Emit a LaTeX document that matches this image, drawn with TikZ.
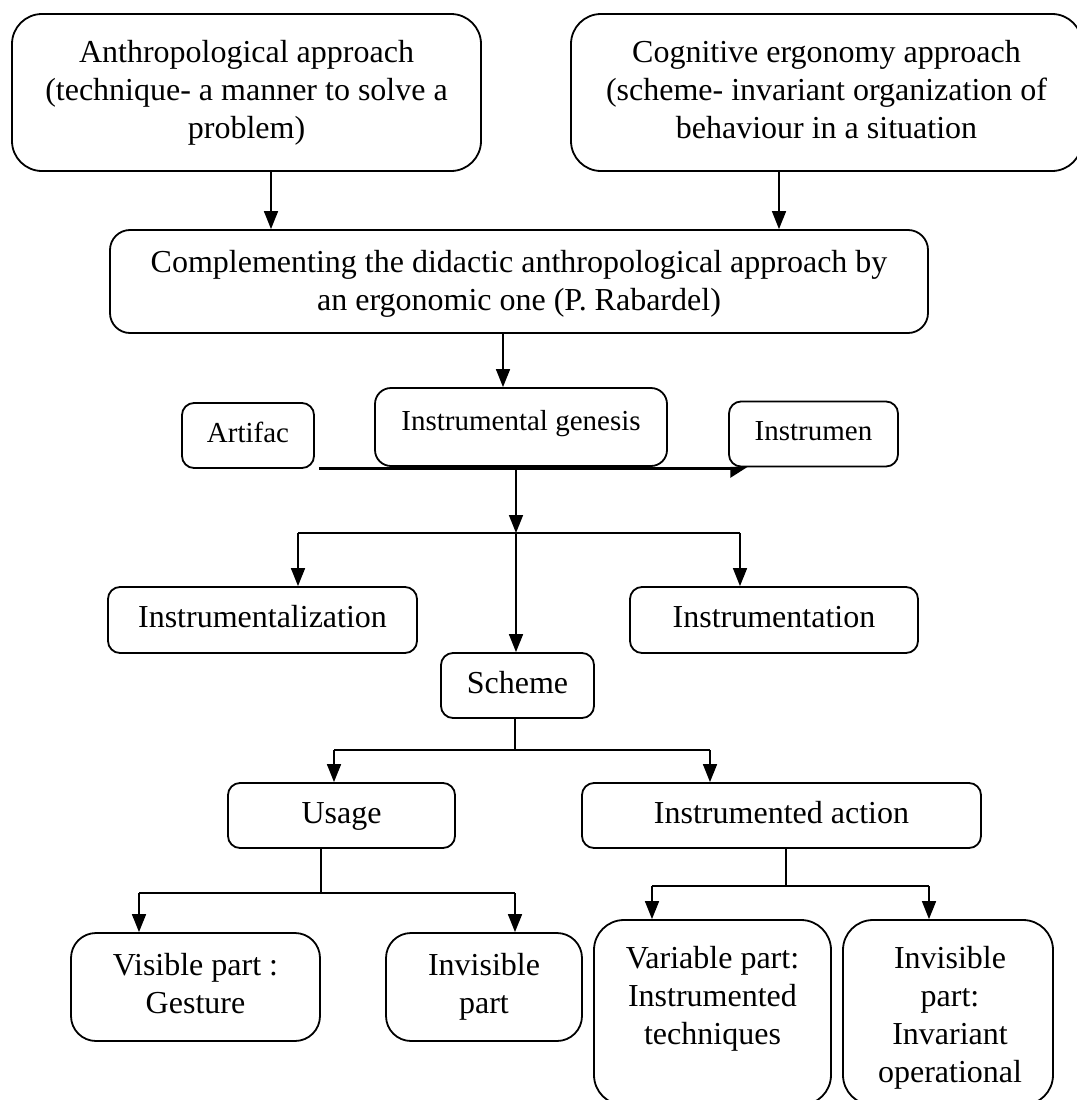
\documentclass[tikz,border=0pt]{standalone}
\usepackage{fontspec}
\setmainfont{Liberation Serif}
\usetikzlibrary{arrows.meta}
\begin{document}
\begin{tikzpicture}[x=1pt,y=-1pt,
  box/.style={draw, line width=1.8pt, rounded corners=#1, inner sep=0pt, align=center,
    font=\fontsize{32}{38}\selectfont},
  box/.default=14pt,
  one/.style={execute at begin node=\strut},
  txt/.style={inner sep=0pt, align=center, font=\fontsize{32}{38}\selectfont},
  small/.style={font=\fontsize{29}{34}\selectfont},
  arr/.style={line width=1.6pt, -{Triangle[length=18pt,width=14pt]}},
  ln/.style={line width=1.6pt}]
\useasboundingbox (0,0) rectangle (1076,1100);

% top boxes
\node[box=30pt, minimum width=469pt, minimum height=157pt] (anth) at (246.5,92.5)
  {\strut Anthropological approach\\(technique- a manner to solve a\\problem)\strut};
\node[box=30pt, minimum width=511pt, minimum height=157pt] (cog) at (826.5,92.5)
  {\strut Cognitive ergonomy approach\\(scheme- invariant organization of\\behaviour in a situation\strut};
\node[box=20pt, minimum width=818pt, minimum height=103pt] (comp) at (519,281.5)
  {\strut Complementing the didactic anthropological approach by\\an ergonomic one (P. Rabardel)};

\draw[arr] (271,0 |- anth.south) -- (271,0 |- comp.north);
\draw[arr] (779,0 |- cog.south) -- (779,0 |- comp.north);

% instrumental genesis row
\node[box=16pt, minimum width=292pt, minimum height=78pt] (ig) at (521,427) {};
\node[txt, small, anchor=base] (igt) at (521,430) {Instrumental genesis};
\node[box=12pt, small, one, minimum width=132pt, minimum height=65pt] (art) at (248,435.5) {Artifac};
\node[box=12pt, small, one, minimum width=169pt, minimum height=65pt] (ins) at (813.5,434) {Instrumen};

\draw[arr] (503,0 |- comp.south) -- (503,0 |- ig.north);
\coordinate (ts) at ([xshift=4pt,yshift=0.5pt]art.south east);
\draw[line width=3.2pt, -{Triangle[harpoon,swap,length=15pt,width=18pt]}]
  (ts) -- (748,0 |- ts);

% branching below instrumental genesis
\coordinate (j1) at (516,533);
\node[box=12pt, one, minimum width=309pt, minimum height=66pt] (iz) at (262.5,620) {Instrumentalization};
\node[box=12pt, one, minimum width=288pt, minimum height=66pt] (it) at (774,620) {Instrumentation};
\node[box=12pt, one, minimum width=153pt, minimum height=65pt] (sch) at (517.5,685.5) {Scheme};

\draw[arr] (j1 |- ig.south) -- (j1);
\draw[ln] (298,0 |- j1) -- (740,0 |- j1);
\draw[arr] (298,0 |- j1) -- (298,0 |- iz.north);
\draw[arr] (740,0 |- j1) -- (740,0 |- it.north);
\draw[arr] (j1) -- (j1 |- sch.north);

% scheme branching
\coordinate (j2) at (515,750);
\node[box=12pt, one, minimum width=227pt, minimum height=65pt] (use) at (341.5,815.5) {Usage};
\node[box=12pt, one, minimum width=399pt, minimum height=65pt] (ia) at (781.5,815.5) {Instrumented action};

\draw[ln] (j2 |- sch.south) -- (j2);
\draw[ln] (334,0 |- j2) -- (710,0 |- j2);
\draw[arr] (334,0 |- j2) -- (334,0 |- use.north);
\draw[arr] (710,0 |- j2) -- (710,0 |- ia.north);

% usage branching
\coordinate (j3) at (321,893);
\node[box=25pt, minimum width=249pt, minimum height=108pt] (vis) at (195.5,987) {\strut Visible part :\\Gesture\strut};
\node[box=25pt, minimum width=196pt, minimum height=108pt] (inv) at (484,987) {\strut Invisible\\part\strut};

\draw[ln] (j3 |- use.south) -- (j3);
\draw[ln] (139,0 |- j3) -- (515,0 |- j3);
\draw[arr] (139,0 |- j3) -- (139,0 |- vis.north);
\draw[arr] (515,0 |- j3) -- (515,0 |- inv.north);

% instrumented action branching
\coordinate (j4) at (786,886);
\node[box=30pt, minimum width=237pt, minimum height=185pt] (var) at (712.5,1012.5) {};
\node[txt, anchor=north] (vart) at (712.5,946) {Variable part:\\Instrumented\\techniques};
\node[box=30pt, minimum width=210pt, minimum height=185pt] (inv2) at (948,1012.5) {};
\node[txt, anchor=north] (inv2t) at (950,946) {Invisible\\part:\\Invariant\\operational};

\draw[ln] (j4 |- ia.south) -- (j4);
\draw[ln] (652,0 |- j4) -- (929,0 |- j4);
\draw[arr] (652,0 |- j4) -- (652,0 |- var.north);
\draw[arr] (929,0 |- j4) -- (929,0 |- inv2.north);
\end{tikzpicture}
\end{document}
